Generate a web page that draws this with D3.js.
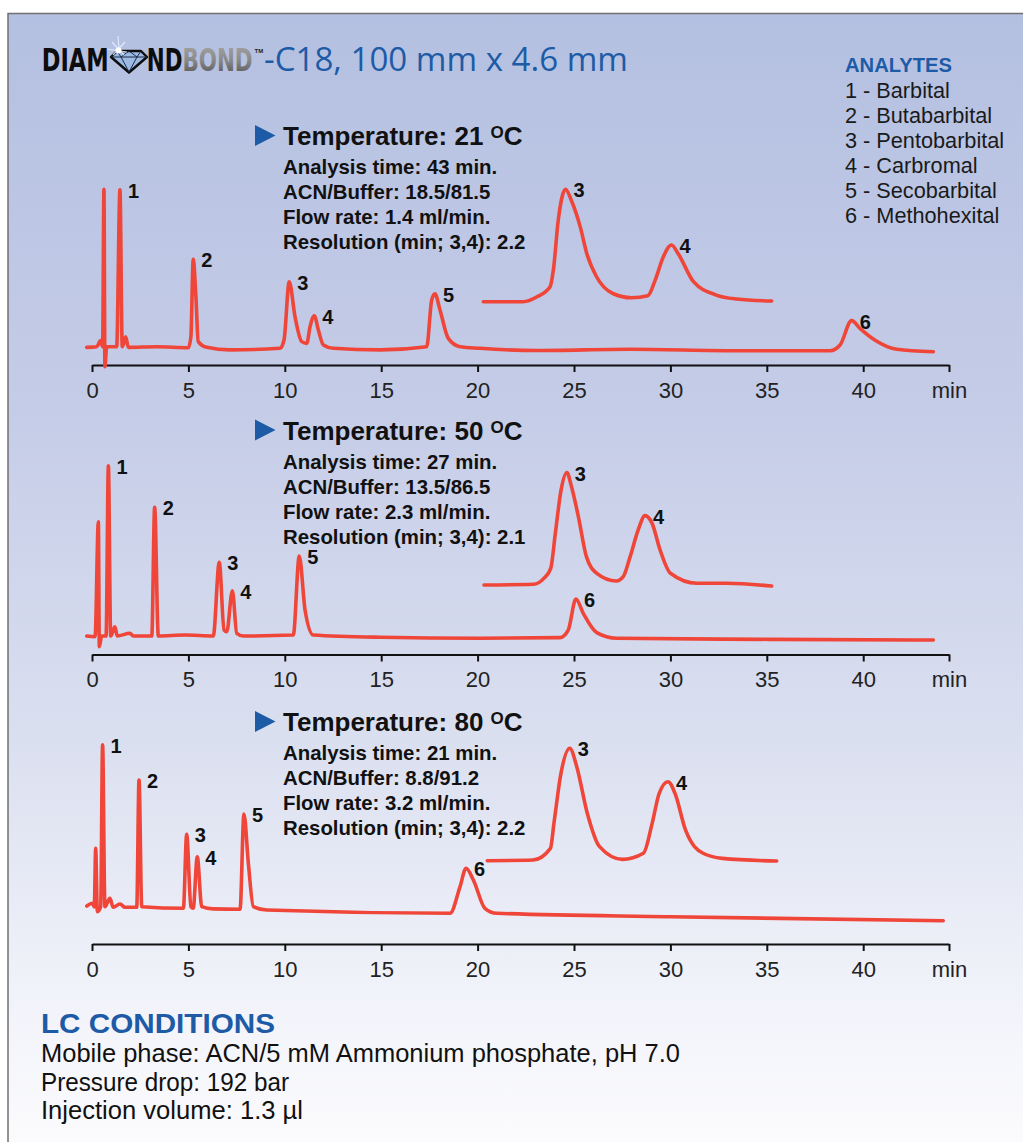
<!DOCTYPE html>
<html>
<head>
<meta charset="utf-8">
<script src="https://cdn.jsdelivr.net/npm/d3@7"></script>
<style>
  body { margin: 0; background: #fff; }
  svg { display: block; }
</style>
</head>
<body>
<script>
'use strict';

// retention time axis (min), same for all three runs
const axisTicks = [0, 5, 10, 15, 20, 25, 30, 35, 40];
const axisEnd = 44.45;

const analytes = ['1 - Barbital', '2 - Butabarbital', '3 - Pentobarbital',
  '4 - Carbromal', '5 - Secobarbital', '6 - Methohexital'];

const temps = ['21', '50', '80'];
const conditions21 = ['Analysis time: 43 min.', 'ACN/Buffer: 18.5/81.5', 'Flow rate: 1.4 ml/min.', 'Resolution (min; 3,4): 2.2'];
const conditions50 = ['Analysis time: 27 min.', 'ACN/Buffer: 13.5/86.5', 'Flow rate: 2.3 ml/min.', 'Resolution (min; 3,4): 2.1'];
const conditions80 = ['Analysis time: 21 min.', 'ACN/Buffer: 8.8/91.2', 'Flow rate: 3.2 ml/min.', 'Resolution (min; 3,4): 2.2'];

const lcConditions = ['Mobile phase: ACN/5 mM Ammonium phosphate, pH 7.0', 'Pressure drop: 192 bar', 'Injection volume: 1.3 \u00b5l'];

// chromatograms: [time (min), response]
const trace21 = [[-0.27, 0.4], [0.24, 0.8], [0.45, 4.6], [0.55, 0.8], [0.62, 99.2], [0.67, -11.7], [0.76, 0.8],
  [1.28, 0.8], [1.45, 98.8], [1.57, 0.8], [1.75, 7], [1.88, 0.4], [3.35, 0.8], [5.0, 0.2], [5.13, 7], [5.25, 55.4],
  [5.39, 32], [5.51, 4], [5.95, 0.4], [7.16, -1.2], [9.75, -0.2], [9.96, 5], [10.23, 41.4], [10.53, 19.6], [10.88, 4],
  [11.14, 2.9], [11.31, 13.3], [11.53, 20.2], [11.74, 11.2], [12.0, 1.9], [12.52, -0.2], [14.94, -1.2], [17.36, 0.8],
  [17.62, 30], [17.79, 33.8], [18.05, 23.8], [18.48, 6], [19.09, 0.8], [20.12, -0.2], [23.07, -1.6], [27.9, -0.8],
  [33.44, -1.7], [38.28, -1.7], [38.8, 1.9], [39.4, 17.1], [39.83, 12.3], [40.6, 5], [41.74, -0.8], [43.64, -2.3]];
const trace50 = [[-0.27, 0], [0.16, -0.4], [0.33, 71.4], [0.38, -6.7], [0.5, 0], [0.73, 0], [0.85, 106.3], [0.97, 0],
  [1.19, 5.8], [1.31, 0], [1.97, 1.7], [2.14, 0], [3.1, 0], [3.25, 80.4], [3.44, 0], [4.82, 0.6], [6.29, 0], [6.6, 46],
  [6.85, 3.7], [6.99, 2.7], [7.28, 28.3], [7.51, 1.7], [7.85, 0], [10.44, 0.6], [10.75, 50], [11.05, 16.3], [11.48, 0.6],
  [14.94, -0.8], [20.12, -1.4], [24.27, -1], [24.7, 3.7], [25.1, 23.1], [25.48, 14.2], [26.18, 2.1], [27.21, -1.4],
  [35.17, -2.1], [43.64, -2.5]];
const trace80 = [[-0.27, 0.6], [0.03, 2.3], [0.12, 0], [0.19, 36.7], [0.28, -2.9], [0.45, 0.2], [0.55, 101.3], [0.67, 0.2],
  [0.93, 5.4], [1.1, -0.2], [1.45, 1.9], [1.71, -0.2], [2.32, -0.2], [2.44, 79.4], [2.58, 0.2], [4.74, -0.8], [4.91, 45.4],
  [5.13, 0.2], [5.25, -0.8], [5.46, 31.4], [5.69, 0.2], [6.29, -1.2], [7.68, -1.4], [7.88, 58.1], [8.11, 27.3], [8.37, 0.2],
  [9.06, -1.9], [18.57, -3.9], [19.09, 12.7], [19.4, 24.2], [19.78, 16.9], [20.38, -0.8], [20.99, -3.9], [29.98, -6.1],
  [44.15, -8.6]];

// enlarged view of peaks 3 and 4: [time (min), % of peak 3]
const insetWindow21 = [9.22, 12.76];
const inset21 = [[9.22, 0], [9.71, 0], [9.88, 4.4], [10.04, 13.3], [10.08, 28.1], [10.14, 72.5], [10.23, 100], [10.30, 90.2],
  [10.41, 66.5], [10.49, 42.9], [10.61, 22.2], [10.81, 7.3], [11.04, 3.5], [11.24, 5.3], [11.33, 19.2], [11.43, 40],
  [11.53, 50.4], [11.61, 42.9], [11.80, 17.8], [12.08, 5.9], [12.33, 2.4], [12.76, 0.6]];
const insetWindow50 = [5.88, 8.38];
const inset50 = [[5.88, 0], [6.31, 0.6], [6.40, 5.9], [6.46, 14.8], [6.50, 46], [6.55, 84.6], [6.60, 100], [6.64, 87.5],
  [6.70, 60.8], [6.77, 25.2], [6.86, 10.4], [7.03, 3.6], [7.09, 7.4], [7.15, 25.2], [7.22, 49], [7.28, 61.7], [7.34, 55],
  [7.41, 31.2], [7.50, 10.4], [7.73, 1.5], [7.99, 1.5], [8.38, -0.9]];
const insetWindow80 = [4.43, 6.08];
const inset80 = [[4.43, 0], [4.69, 0.6], [4.79, 11], [4.81, 33.2], [4.85, 77.7], [4.90, 100], [4.94, 83.6], [5.00, 42.2],
  [5.07, 12.5], [5.20, 1.2], [5.32, 6.6], [5.37, 33.2], [5.41, 59.9], [5.46, 70.2], [5.50, 59.9], [5.56, 27.3], [5.66, 6.6],
  [5.77, 2.1], [6.08, -0.3]];

// peak numbers: [label, apex time, apex response]
const peaks21 = [['1', 1.45, 98.8], ['2', 5.25, 55.4], ['3', 10.23, 41.4], ['4', 11.53, 20.2], ['5', 17.79, 33.8], ['6', 39.4, 17.1]];
const peaks50 = [['1', 0.85, 106.3], ['2', 3.25, 80.4], ['3', 6.6, 46], ['4', 7.28, 28.3], ['5', 10.75, 50], ['6', 25.1, 23.1]];
const peaks80 = [['1', 0.55, 101.3], ['2', 2.44, 79.4], ['3', 4.91, 45.4], ['4', 5.46, 31.4], ['5', 7.88, 58.1], ['6', 19.4, 24.2]];
const insetPeaks21 = [['3', 10.23, 100], ['4', 11.53, 50.4]];
const insetPeaks50 = [['3', 6.6, 100], ['4', 7.28, 61.7]];
const insetPeaks80 = [['3', 4.9, 100], ['4', 5.46, 70.2]];

(function() {
  let svg = '';
  let defs = '';
  const width = 1023;
  const height = 1142;
  const red = '#ef4639';
  const blue = '#1d5ba6';
  const sans = "'Liberation Sans', Arial, sans-serif";
  const heavy = "'DejaVu Sans', sans-serif";

  window.onload = function() {
    svg = d3.select('body').append('svg')
      .attr('width', width)
      .attr('height', height);
    defs = svg.append('defs');

    drawBackground();
    drawTitle();
    drawLegend();

    let panels = [
      { temp: temps[0], cond: conditions21, trace: trace21, peaks: peaks21, inset: inset21, insetPeaks: insetPeaks21,
        window: insetWindow21, headerY: 145, baseY: 348, axisY: 365, insetX: [483.3, 771.7], insetBase: 301.7 },
      { temp: temps[1], cond: conditions50, trace: trace50, peaks: peaks50, inset: inset50, insetPeaks: insetPeaks50,
        window: insetWindow50, headerY: 439.5, baseY: 636, axisY: 654.5, insetX: [484, 771.7], insetBase: 585 },
      { temp: temps[2], cond: conditions80, trace: trace80, peaks: peaks80, inset: inset80, insetPeaks: insetPeaks80,
        window: insetWindow80, headerY: 731, baseY: 907, axisY: 944, insetX: [487.3, 776.7], insetBase: 860.7 }
    ];
    panels.forEach(drawPanel);

    drawConditions();
  };

  function drawBackground() {
    let grad = defs.append('linearGradient')
      .attr('id', 'bg')
      .attr('x1', 0).attr('y1', 0).attr('x2', 0).attr('y2', 1);
    [[0, '#b4c0e1'], [0.35, '#c5cce7'], [0.65, '#dbe0f0'], [0.9, '#f4f5fb'], [1, '#fbfbfd']].forEach(function(s) {
      grad.append('stop').attr('offset', s[0]).attr('stop-color', s[1]);
    });
    svg.append('rect')
      .attr('x', 8).attr('y', 13.5)
      .attr('width', width - 8).attr('height', height - 13.5)
      .attr('fill', 'url(#bg)');
    svg.append('path')
      .attr('d', 'M8,' + height + 'V13.5H' + width)
      .attr('fill', 'none')
      .attr('stroke', '#707070')
      .attr('stroke-width', 1.5);
  }

  // squeeze a heavy word into the width the logo gives it
  function logoWord(x, w) {
    let g = svg.append('g');
    let t = g.append('text')
      .attr('x', 0).attr('y', 0)
      .style('font-family', heavy).style('font-weight', 'bold').style('font-size', '32px');
    return { g: g, t: t, fit: function() {
      let natural = t.node().getComputedTextLength();
      g.attr('transform', 'translate(' + x + ',71) scale(' + (w / natural) + ',1)');
    } };
  }

  function drawTitle() {
    let gray = defs.append('linearGradient')
      .attr('id', 'metal')
      .attr('x1', 0).attr('y1', 0).attr('x2', 0).attr('y2', 1);
    gray.append('stop').attr('offset', 0).attr('stop-color', '#a6a6a6');
    gray.append('stop').attr('offset', 0.5).attr('stop-color', '#8a8a8a');
    gray.append('stop').attr('offset', 1).attr('stop-color', '#4f4f4f');

    let diam = logoWord(41.7, 67);
    diam.t.attr('fill', '#0d0d0d').text('DIAM');
    diam.fit();
    let bond = logoWord(146.7, 106);
    bond.t.append('tspan').attr('fill', '#0d0d0d').text('ND');
    bond.t.append('tspan').attr('fill', 'url(#metal)').text('BOND');
    bond.fit();

    svg.append('text').attr('x', 254.5).attr('y', 53)
      .style('font-family', sans).style('font-size', '6px').style('font-weight', 'bold')
      .attr('fill', '#222').text('TM');

    // the diamond that stands for the O
    let gem = svg.append('g');
    gem.append('path')
      .attr('d', 'M111,57L117,51H141L147,57L129,72.5Z')
      .attr('fill', '#9dbae4')
      .attr('stroke', '#0d0d0d')
      .attr('stroke-width', 2.4)
      .attr('stroke-linejoin', 'round');
    gem.append('path')
      .attr('d', 'M111,57H147M121,57L129,72L137,57M117,51L121,57L129,51L137,57L141,51')
      .attr('fill', 'none')
      .attr('stroke', '#1b2b4a')
      .attr('stroke-width', 1);
    gem.append('path')
      .attr('d', 'M118,36L119,49M107,49L127,52M112,42L124,55M125,42L113,55')
      .attr('stroke', '#e4eeff')
      .attr('stroke-width', 1.2)
      .attr('opacity', 0.9);
    gem.append('circle').attr('cx', 118.5).attr('cy', 50.5).attr('r', 3).attr('fill', '#fff');

    svg.append('text')
      .attr('x', 264).attr('y', 71)
      .style('font-family', "'Open Sans', 'Liberation Sans', sans-serif")
      .style('font-size', '32px')
      .attr('fill', blue)
      .attr('textLength', 364)
      .attr('lengthAdjust', 'spacingAndGlyphs')
      .text('-C18, 100 mm x 4.6 mm');
  }

  function drawLegend() {
    svg.append('text')
      .attr('x', 845).attr('y', 71.7)
      .style('font-family', sans)
      .style('font-weight', 'bold')
      .style('font-size', '20px')
      .attr('fill', blue)
      .attr('textLength', 107)
      .attr('lengthAdjust', 'spacingAndGlyphs')
      .text('ANALYTES');
    svg.selectAll('.analyte')
      .data(analytes)
      .enter()
      .append('text')
      .attr('class', 'analyte')
      .attr('x', 845)
      .attr('y', (d, i) => 98.3 + i * 25)
      .style('font-family', sans)
      .style('font-size', '21.7px')
      .attr('fill', '#1a1a1a')
      .text(d => d);
  }

  function drawPanel(p) {
    let g = svg.append('g');

    // heading
    let hy = p.headerY;
    g.append('path')
      .attr('d', 'M255,' + (hy - 20) + 'L275.5,' + (hy - 9.5) + 'L255,' + (hy + 1) + 'Z')
      .attr('fill', blue);
    let head = g.append('text')
      .attr('x', 283).attr('y', hy)
      .style('font-family', sans)
      .style('font-weight', 'bold')
      .style('font-size', '26px')
      .attr('fill', '#111');
    head.append('tspan').text('Temperature: ' + p.temp + ' ');
    head.append('tspan').attr('dy', -7).style('font-size', '17px').text('O');
    head.append('tspan').attr('dy', 7).text('C');

    g.selectAll('.cond')
      .data(p.cond)
      .enter()
      .append('text')
      .attr('x', 283)
      .attr('y', (d, i) => hy + 29 + i * 25)
      .style('font-family', sans)
      .style('font-weight', 'bold')
      .style('font-size', '20.4px')
      .attr('fill', '#111')
      .text(d => d);

    // axis
    let xScale = d3.scaleLinear()
      .domain([0, axisEnd])
      .range([92, 949]);
    let yScale = d3.scaleLinear()
      .domain([0, 100])
      .range([p.baseY, p.baseY - 160]);
    let xAxis = d3.axisBottom(xScale)
      .tickValues(axisTicks.concat([axisEnd]))
      .tickSize(7)
      .tickSizeOuter(0)
      .tickFormat(d => d === axisEnd ? 'min' : d);
    let ax = g.append('g')
      .attr('transform', 'translate(0,' + p.axisY + ')')
      .call(xAxis);
    ax.select('.domain').attr('stroke', '#111').attr('stroke-width', 2.2);
    ax.selectAll('.tick line').attr('stroke', '#111').attr('stroke-width', 2);
    ax.selectAll('.tick text')
      .attr('y', 17)
      .attr('fill', '#222')
      .style('font-family', sans)
      .style('font-size', '22px');

    // chromatogram
    let line = d3.line()
      .x(d => xScale(d[0]))
      .y(d => yScale(d[1]))
      .curve(d3.curveMonotoneX);
    g.append('path')
      .datum(p.trace)
      .attr('d', line)
      .attr('fill', 'none')
      .attr('stroke', red)
      .attr('stroke-width', 3.6)
      .attr('stroke-linejoin', 'round')
      .attr('stroke-linecap', 'round');
    plotLabels(g, p.peaks, xScale, yScale);

    // enlarged peaks 3 and 4
    let ix = d3.scaleLinear().domain(p.window).range(p.insetX);
    let iy = d3.scaleLinear().domain([0, 100]).range([p.insetBase, p.insetBase - 112.5]);
    let insetLine = d3.line()
      .x(d => ix(d[0]))
      .y(d => iy(d[1]))
      .curve(d3.curveMonotoneX);
    g.append('path')
      .datum(p.inset)
      .attr('d', insetLine)
      .attr('fill', 'none')
      .attr('stroke', red)
      .attr('stroke-width', 3.6)
      .attr('stroke-linejoin', 'round')
      .attr('stroke-linecap', 'round');
    plotLabels(g, p.insetPeaks, ix, iy);
  }

  function plotLabels(g, peaks, x, y) {
    g.selectAll(null)
      .data(peaks)
      .enter()
      .append('text')
      .attr('x', d => x(d[1]) + 8)
      .attr('y', d => y(d[2]) + 8)
      .style('font-family', sans)
      .style('font-weight', 'bold')
      .style('font-size', '20px')
      .attr('fill', '#111')
      .text(d => d[0]);
  }

  function drawConditions() {
    svg.append('text')
      .attr('x', 41).attr('y', 1033)
      .style('font-family', sans)
      .style('font-weight', 'bold')
      .style('font-size', '28px')
      .attr('fill', blue)
      .attr('textLength', 234)
      .attr('lengthAdjust', 'spacingAndGlyphs')
      .text('LC CONDITIONS');
    let widths = [639, 248, 262];
    svg.selectAll('.lc')
      .data(lcConditions)
      .enter()
      .append('text')
      .attr('class', 'lc')
      .attr('x', 41)
      .attr('y', (d, i) => 1062 + i * 28.5)
      .attr('textLength', (d, i) => widths[i])
      .attr('lengthAdjust', 'spacingAndGlyphs')
      .style('font-family', sans)
      .style('font-size', '25px')
      .attr('fill', '#111')
      .text(d => d);
  }

})();
</script>
</body>
</html>
